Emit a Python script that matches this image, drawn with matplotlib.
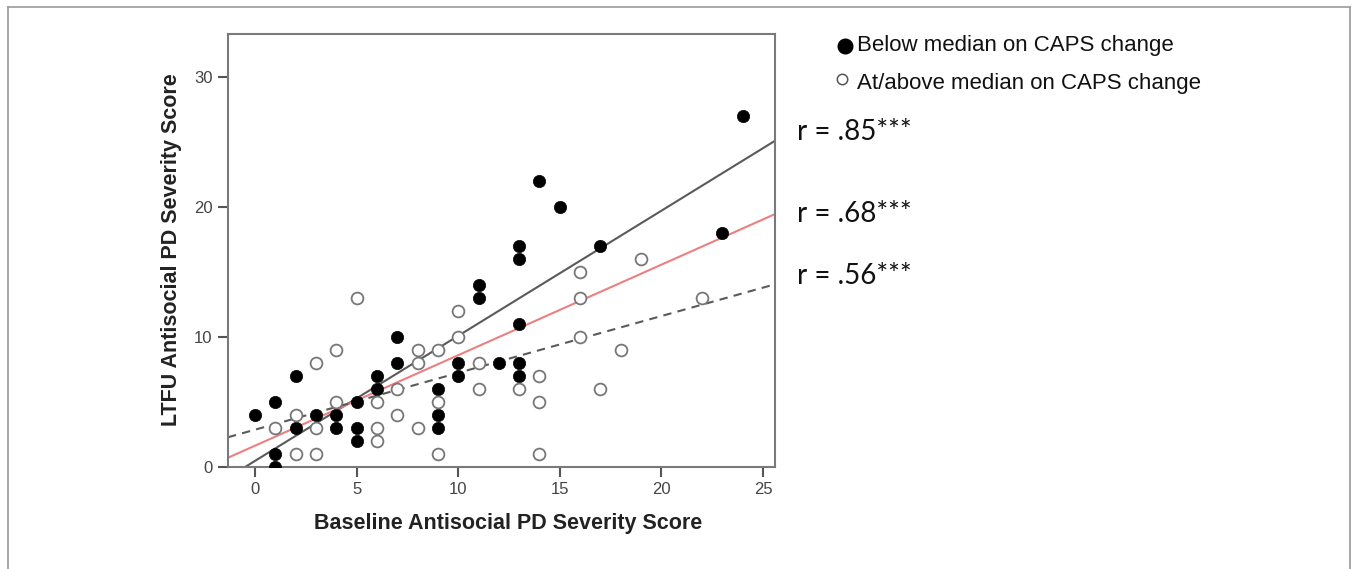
import numpy as np
import matplotlib
matplotlib.use("Agg")
import matplotlib.pyplot as plt
from matplotlib.lines import Line2D

# below median on CAPS change (filled)
below_x = [0, 1, 1, 1, 2, 2, 3, 4, 4, 5, 5, 5, 6, 6, 7, 7, 9, 9, 9,
           10, 10, 11, 11, 12, 13, 13, 13, 13, 13, 14, 15, 17, 23, 24]
below_y = [4, 5, 1, 0, 7, 3, 4, 4, 3, 5, 3, 2, 7, 6, 10, 8, 6, 4, 3,
           8, 7, 14, 13, 8, 17, 16, 11, 8, 7, 22, 20, 17, 18, 27]

# at/above median on CAPS change (open)
above_x = [1, 2, 2, 3, 3, 3, 4, 4, 5, 6, 6, 6, 7, 7, 8, 8, 8, 9, 9, 9,
           10, 10, 11, 11, 13, 14, 14, 14, 16, 16, 16, 17, 18, 19, 22]
above_y = [3, 4, 1, 8, 3, 1, 9, 5, 13, 5, 3, 2, 6, 4, 9, 8, 3, 9, 5, 1,
           12, 10, 8, 6, 6, 7, 5, 1, 15, 13, 10, 6, 9, 16, 13]

# fit lines: below median, whole sample, at/above median
fit_slope = [0.962, 0.696, 0.437]
fit_icept = [0.47, 1.64, 2.87]

r_labels = ["r = .85***", "r = .68***", "r = .56***"]
x_ticks = [0, 5, 10, 15, 20, 25]
y_ticks = [0, 10, 20, 30]

W, H = 1359, 569
fig = plt.figure(figsize=(W / 100, H / 100), dpi=100)
fig.patch.set_facecolor("white")

def fx(px):
    return px / W

def fy(py):
    return 1 - py / H

ax = fig.add_axes([fx(228), fy(467), fx(775) - fx(228), fy(34) - fy(467)])
ax.set_xlim(-1.33, 25.59)
ax.set_ylim(0, 33.3)

ax.scatter(below_x, below_y, s=78, c="black", edgecolors="black", linewidths=0.5, zorder=3)
ax.scatter(above_x, above_y, s=72, facecolors="white", edgecolors="#777777", linewidths=1.3, zorder=3)

xs = np.array([-1.33, 25.59])
line_styles = [dict(color="#5a5a5a", ls="-"), dict(color="#ec8080", ls="-"),
               dict(color="#5a5a5a", ls=(0, (4, 3)))]
for m, c, st in zip(fit_slope, fit_icept, line_styles):
    ax.plot(xs, m * xs + c, lw=1.5, zorder=2, **st)

for s in ax.spines.values():
    s.set_color("#7a7a7a")
    s.set_linewidth(1.5)
ax.set_xticks(x_ticks)
ax.set_yticks(y_ticks)
ax.tick_params(direction="out", length=7, width=1.5, color="#555555",
               labelsize=12, labelcolor="#444444", pad=4)
for lab in ax.get_xticklabels() + ax.get_yticklabels():
    lab.set_family("Liberation Sans")

ax.set_xlabel("Baseline Antisocial PD Severity Score", fontsize=15.5, fontweight="bold",
              family="Liberation Sans", color="#222222")
ax.set_ylabel("LTFU Antisocial PD Severity Score", fontsize=15.5, fontweight="bold",
              family="Liberation Sans", color="#222222")
ax.xaxis.set_label_coords((508 - 228) / 547, -(524 - 467) / 433)
ax.yaxis.set_label_coords(-(228 - 172) / 547, (467 - 250) / 433)
ax.xaxis.label.set_va("center")
ax.yaxis.label.set_va("center")

# legend drawn by hand
fig.add_artist(Line2D([fx(845)], [fy(46)], marker="o", ms=10.5, color="black", transform=fig.transFigure))
fig.add_artist(Line2D([fx(842)], [fy(79)], marker="o", ms=7.5, mfc="white", mec="#555555", mew=1.1,
                      transform=fig.transFigure))
fig.text(fx(857), fy(45), "Below median on CAPS change", fontsize=16, family="Liberation Sans",
         va="center", ha="left", color="#111111")
fig.text(fx(857), fy(84), "At/above median on CAPS change", fontsize=16, family="Liberation Sans",
         va="center", ha="left", color="#111111")

for lab, py in zip(r_labels, [132.5, 214.5, 275.5]):
    fig.text(fx(797), fy(py), lab, fontsize=20, family="Lato", va="center", ha="left", color="#111111")

# outer frame
fig.add_artist(Line2D([fx(8), fx(8)], [0, fy(7)], color="#9a9a9a", lw=1.2, transform=fig.transFigure))
fig.add_artist(Line2D([fx(8), fx(1350)], [fy(7), fy(7)], color="#9a9a9a", lw=1.2, transform=fig.transFigure))
fig.add_artist(Line2D([fx(1350), fx(1350)], [0, fy(7)], color="#9a9a9a", lw=1.2, transform=fig.transFigure))

fig.savefig("out.png", dpi=100)
